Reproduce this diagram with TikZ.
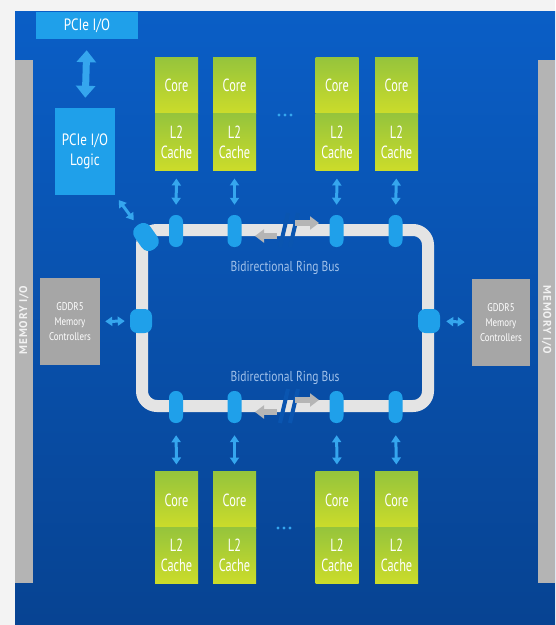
\documentclass[tikz,border=0pt]{standalone}
\usepackage{fontspec}
\setmainfont[FakeStretch=0.8]{PT Sans}
\newfontfamily\corefont[FakeStretch=0.7]{PT Sans}
\newfontfamily\memfont[LetterSpace=8]{PT Sans}
\usetikzlibrary{arrows.meta}
\definecolor{bgwhite}{HTML}{F3F3F3}
\definecolor{bluetop}{HTML}{0A5EC6}
\definecolor{bluebot}{HTML}{074392}
\definecolor{bluemid}{HTML}{0A55B0}
\definecolor{lblue}{HTML}{1FA0EA}
\definecolor{arrblue}{HTML}{35A6EE}
\definecolor{memgrey}{HTML}{B4B4B4}
\definecolor{boxgrey}{HTML}{A6A6A6}
\definecolor{ringgrey}{HTML}{E4E4E4}
\definecolor{arrgrey}{HTML}{B5B5B5}
\definecolor{coretop}{HTML}{95C43C}
\definecolor{corebot}{HTML}{CCDC2A}
\definecolor{labelblue}{HTML}{A2C2EA}
\def\PX{0.03cm}
\tikzset{
  corepart/.style={rectangle, inner sep=0pt, minimum width=43*\PX, minimum height=56.5*\PX,
    top color=coretop, bottom color=corebot, text=white, align=center,
    font=\corefont\fontsize{15}{17}\selectfont},
  lbox/.style={rectangle, inner sep=0pt, fill=lblue, text=white, align=center,
    font=\fontsize{14}{16.5}\selectfont},
  gbox/.style={rectangle, inner sep=0pt, fill=boxgrey, text=white, align=center,
    font=\fontsize{9.5}{12.5}\selectfont},
  ringstop/.style={rectangle, inner sep=0pt, fill=lblue, rounded corners=0.2cm,
    minimum width=14*\PX, minimum height=32*\PX},
  sidestop/.style={rectangle, inner sep=0pt, fill=lblue, rounded corners=0.22cm,
    minimum width=22*\PX, minimum height=24*\PX},
  dbl/.style={draw=arrblue, line width=3*\PX,
    {Triangle[width=9*\PX,length=7*\PX]}-{Triangle[width=9*\PX,length=7*\PX]}},
  bigdbl/.style={draw=arrblue, line width=7*\PX,
    {Triangle[width=19*\PX,length=12*\PX]}-{Triangle[width=19*\PX,length=12*\PX]}},
  greyarr/.style={draw=arrgrey, line width=6*\PX, -{Triangle[width=13*\PX,length=9*\PX]}},
  slash/.style={draw=bluemid, line width=4*\PX},
  memlabel/.style={text=white!95!black, font=\memfont\bfseries\fontsize{9.5}{9.5}\selectfont},
  ringlabel/.style={text=labelblue, font=\fontsize{12.3}{13}\selectfont},
}
\begin{document}
\begin{tikzpicture}[x=0.03cm,y=-0.03cm]
\useasboundingbox (0,0) rectangle (555,625);
% background
\fill[bgwhite] (0,0) rectangle (555,625);
\shade[top color=bluetop, bottom color=bluebot] (15,12) rectangle (555,625);
% memory I/O strips
\fill[memgrey] (15,60) rectangle (33,583);
\fill[memgrey] (538,60) rectangle (555,583);
\node[memlabel, rotate=90] (meml) at (24,320) {MEMORY I/O};
\node[memlabel, rotate=-90] (memr) at (546.5,320) {MEMORY I/O};
% PCIe
\node[lbox, minimum width=102*\PX, minimum height=27*\PX] (pcie) at (87,25.5) {PCIe I/O};
\node[lbox, minimum width=60*\PX, minimum height=87*\PX] (pcil) at (85,151.5) {PCIe I/O\\Logic};
% GDDR5
\node[gbox, minimum width=60*\PX, minimum height=87*\PX] (gl) at (70,321.5) {GDDR5\\Memory\\Controllers};
\node[gbox, minimum width=58*\PX, minimum height=87*\PX] (gr) at (501,322.5) {GDDR5\\Memory\\Controllers};
% ring
\draw[line width=12*\PX, ringgrey, rounded corners=0.45cm] (142,230) rectangle (428,406);
% breaks in the ring
\draw[slash] (280,247) -- (288,213);
\draw[slash] (290,247) -- (298,213);
\draw[slash] (280,423) -- (288,389);
\draw[slash] (290,423) -- (298,389);
\coordinate (tla) at (277,236); \coordinate (tlb) at (255,236);
\coordinate (tra) at (295,223); \coordinate (trb) at (319,223);
\coordinate (bla) at (277,412); \coordinate (blb) at (255,412);
\coordinate (bra) at (295,400); \coordinate (brb) at (319,400);
\draw[greyarr] (tla) -- (tlb);
\draw[greyarr] (tra) -- (trb);
\draw[greyarr] (bla) -- (blb);
\draw[greyarr] (bra) -- (brb);
\node[ringlabel] (lab1) at (285,268) {Bidirectional Ring Bus};
\node[ringlabel] (lab2) at (285,378) {Bidirectional Ring Bus};
% ring stops
\foreach \n/\x in {1/176,2/234.5,3/336.5,4/395.5}{
  \node[ringstop] (ts\n) at (\x,231) {};
  \node[ringstop] (bs\n) at (\x,407) {};
}
\node[sidestop] (ls) at (141,321) {};
\node[sidestop] (rs) at (429,321) {};
\node[ringstop, minimum width=19*\PX, minimum height=29*\PX, rounded corners=0.25cm, rotate=35] (cs) at (146,237) {};
% cores
\foreach \n/\x in {1/176.5,2/234.5,3/337,4/396.5}{
  \node[corepart] (tc\n) at (\x,85.5) {Core};
  \node[corepart] (tl\n) at (\x,142) {L2\\Cache};
  \node[corepart] (bc\n) at (\x,500) {Core};
  \node[corepart] (bl\n) at (\x,555.5) {L2\\Cache};
  \draw[dbl, shorten <=8*\PX, shorten >=10*\PX] (tl\n.south) -- (ts\n.north);
  \draw[dbl, shorten <=12*\PX, shorten >=7*\PX] (bs\n.south) -- (bc\n.north);
}
% dots
\foreach \x in {279,285,291}{
  \fill[arrblue] (\x,115) circle[radius=0.05cm];
  \fill[arrblue] (\x-1,528) circle[radius=0.05cm];
}
% connectors
\draw[bigdbl, shorten <=11*\PX, shorten >=10*\PX] (pcie.south) -- (pcil.north);
\draw[dbl, shorten <=6*\PX, shorten >=6*\PX] (pcil.south east) -- (cs);
\draw[dbl, shorten <=5*\PX, shorten >=5*\PX] (gl.east) -- (ls.west);
\draw[dbl, shorten <=6*\PX, shorten >=7*\PX] (rs.east) -- (gr.west);
\end{tikzpicture}
\end{document}
